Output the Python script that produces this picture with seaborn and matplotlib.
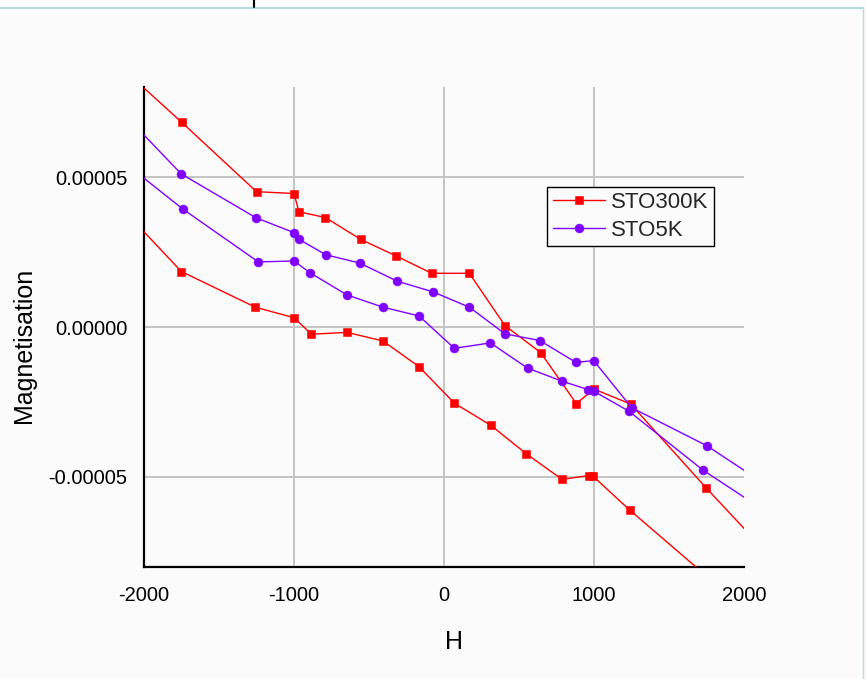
import numpy as np
import pandas as pd
import matplotlib
matplotlib.use("Agg")
import matplotlib.pyplot as plt
import seaborn as sns
from matplotlib.lines import Line2D
from matplotlib.ticker import MultipleLocator, FuncFormatter, FixedLocator

# ---------------- data ----------------
red_up_H = [-2250, -1750, -1250, -1000, -967, -791, -555, -320, -82, 169, 407, 644, 882, 1000, 1245, 1747, 2250]
red_up_M = [9.1e-5, 6.83e-5, 4.51e-5, 4.45e-5, 3.84e-5, 3.65e-5, 2.92e-5, 2.37e-5, 1.79e-5, 1.79e-5,
            0.43e-6, -8.5e-6, -2.55e-5, -2.07e-5, -2.57e-5, -5.36e-5, -8.05e-5]

red_lo_H = [-2250, -1751, -1258, -1000, -884, -647, -407, -167, 69, 313, 547, 787, 967, 995, 1240, 1750]
red_lo_M = [4.5e-5, 1.85e-5, 6.6e-6, 3.1e-6, -2.4e-6, -1.8e-6, -4.65e-6, -1.32e-5, -2.54e-5, -3.28e-5,
            -4.22e-5, -5.08e-5, -4.95e-5, -4.98e-5, -6.11e-5, -8.3e-5]

pu_up_H = [-2250, -1751, -1253, -1002, -969, -789, -562, -313, -73, 169, 407, 638, 880, 998, 1251, 1753, 2250]
pu_up_M = [7.7e-5, 5.1e-5, 3.64e-5, 3.15e-5, 2.93e-5, 2.41e-5, 2.13e-5, 1.53e-5, 1.17e-5, 6.6e-6,
           -2.3e-6, -4.5e-6, -1.18e-5, -1.12e-5, -2.69e-5, -3.96e-5, -5.6e-5]

pu_lo_H = [-2250, -1738, -1238, -1000, -891, -647, -407, -167, 69, 309, 557, 784, 962, 998, 1231, 1724, 2250]
pu_lo_M = [5.95e-5, 3.92e-5, 2.17e-5, 2.2e-5, 1.8e-5, 1.07e-5, 6.6e-6, 3.7e-6, -7.1e-6, -5.3e-6,
           -1.37e-5, -1.8e-5, -2.09e-5, -2.14e-5, -2.8e-5, -4.76e-5, -6.5e-5]

series_names = ["STO300K", "STO5K"]
x_ticks = [-2000, -1000, 0, 1000, 2000]
y_ticks = [-0.00005, 0.0, 0.00005]

# ---------------- build table ----------------
frames = []
for name, branch, H, M in [("STO300K", "up", red_up_H, red_up_M),
                           ("STO300K", "lo", red_lo_H, red_lo_M),
                           ("STO5K", "up", pu_up_H, pu_up_M),
                           ("STO5K", "lo", pu_lo_H, pu_lo_M)]:
    frames.append(pd.DataFrame({"H": H, "M": M, "sample": name, "branch": branch}))
df = pd.concat(frames, ignore_index=True)

# ---------------- style ----------------
sns.set_style("white")
plt.rcParams["font.family"] = ["Liberation Sans", "DejaVu Sans"]
bg = "#fbfbfb"
RED = "#ff0000"
PURPLE = "#8000ff"
palette = {"STO300K": RED, "STO5K": PURPLE}
markers = {"STO300K": "s", "STO5K": "o"}

fig = plt.figure(figsize=(8.66, 6.79), dpi=100, facecolor=bg)
ax = fig.add_axes([144 / 866, 1 - 567 / 679, 600 / 866, 480 / 679])
ax.set_facecolor(bg)

for name in series_names:
    sub = df[df["sample"] == name]
    sns.lineplot(data=sub, x="H", y="M", units="branch", estimator=None, sort=False,
                 color=palette[name], marker=markers[name],
                 markersize=5.4 if name == "STO300K" else 6.4,
                 markeredgecolor=palette[name], markeredgewidth=0.4,
                 linewidth=1.0, ax=ax, legend=False, zorder=3)

ax.set_xlim(-2000, 2000)
ax.set_ylim(-0.00008, 0.00008)

ax.xaxis.set_major_locator(FixedLocator(x_ticks))
ax.xaxis.set_minor_locator(MultipleLocator(200))
ax.yaxis.set_major_locator(FixedLocator(y_ticks))
ax.yaxis.set_minor_locator(MultipleLocator(0.00001))
ax.xaxis.set_major_formatter(FuncFormatter(lambda v, p: "%d" % round(v)))
ax.yaxis.set_major_formatter(FuncFormatter(lambda v, p: ("%.5f" % v) if abs(v) > 1e-12 else "0.00000"))

ax.grid(True, which="major", color="#c4c4c4", linewidth=1.4, zorder=0)
ax.set_axisbelow(True)
for gl, v in zip(ax.xaxis.get_gridlines(), x_ticks):
    if v in (-2000, 2000):
        gl.set_visible(False)

for s in ["top", "right"]:
    ax.spines[s].set_visible(False)
for s in ["left", "bottom"]:
    ax.spines[s].set_color("black")
    ax.spines[s].set_linewidth(1.6)

ax.tick_params(axis="both", which="major", direction="out", length=7.5, width=1.5,
               color="black", labelsize=14.5, labelcolor="black")
ax.tick_params(axis="both", which="minor", direction="out", length=4.2, width=1.5, color="black")
ax.tick_params(axis="x", which="major", pad=6)
ax.tick_params(axis="y", which="major", pad=4.5)

ax.set_xlabel("H", fontsize=18, color="black")
ax.set_ylabel("Magnetisation", fontsize=18, color="black")
ax.xaxis.set_label_coords(0.517, -0.131)
ax.yaxis.set_label_coords(-0.18, 0.4625)

handles = [Line2D([], [], color=RED, marker="s", markersize=5.4, lw=1.0, markeredgewidth=0.4),
           Line2D([], [], color=PURPLE, marker="o", markersize=6.4, lw=1.0, markeredgewidth=0.4)]
leg = ax.legend(handles, series_names, loc="upper left", bbox_to_anchor=(0.672, 0.792),
                borderaxespad=0, fontsize=16, handlelength=2.35, handletextpad=0.28,
                labelspacing=0.29, borderpad=0.24, fancybox=False, framealpha=1,
                facecolor=bg, edgecolor="black")
leg.get_frame().set_linewidth(1.0)

# screenshot frame remnants
fig.add_artist(Line2D([0, 863 / 866], [1 - 7.5 / 679, 1 - 7.5 / 679], transform=fig.transFigure,
                      color="#b5dde3", lw=1.5))
fig.add_artist(Line2D([863 / 866, 863 / 866], [1 - 7.5 / 679, 0], transform=fig.transFigure,
                      color="#b5dde3", lw=1.0))
fig.add_artist(Line2D([254 / 866, 254 / 866], [1, 1 - 7 / 679], transform=fig.transFigure,
                      color="black", lw=1.5))

fig.savefig("out.png", dpi=100, facecolor=bg)
